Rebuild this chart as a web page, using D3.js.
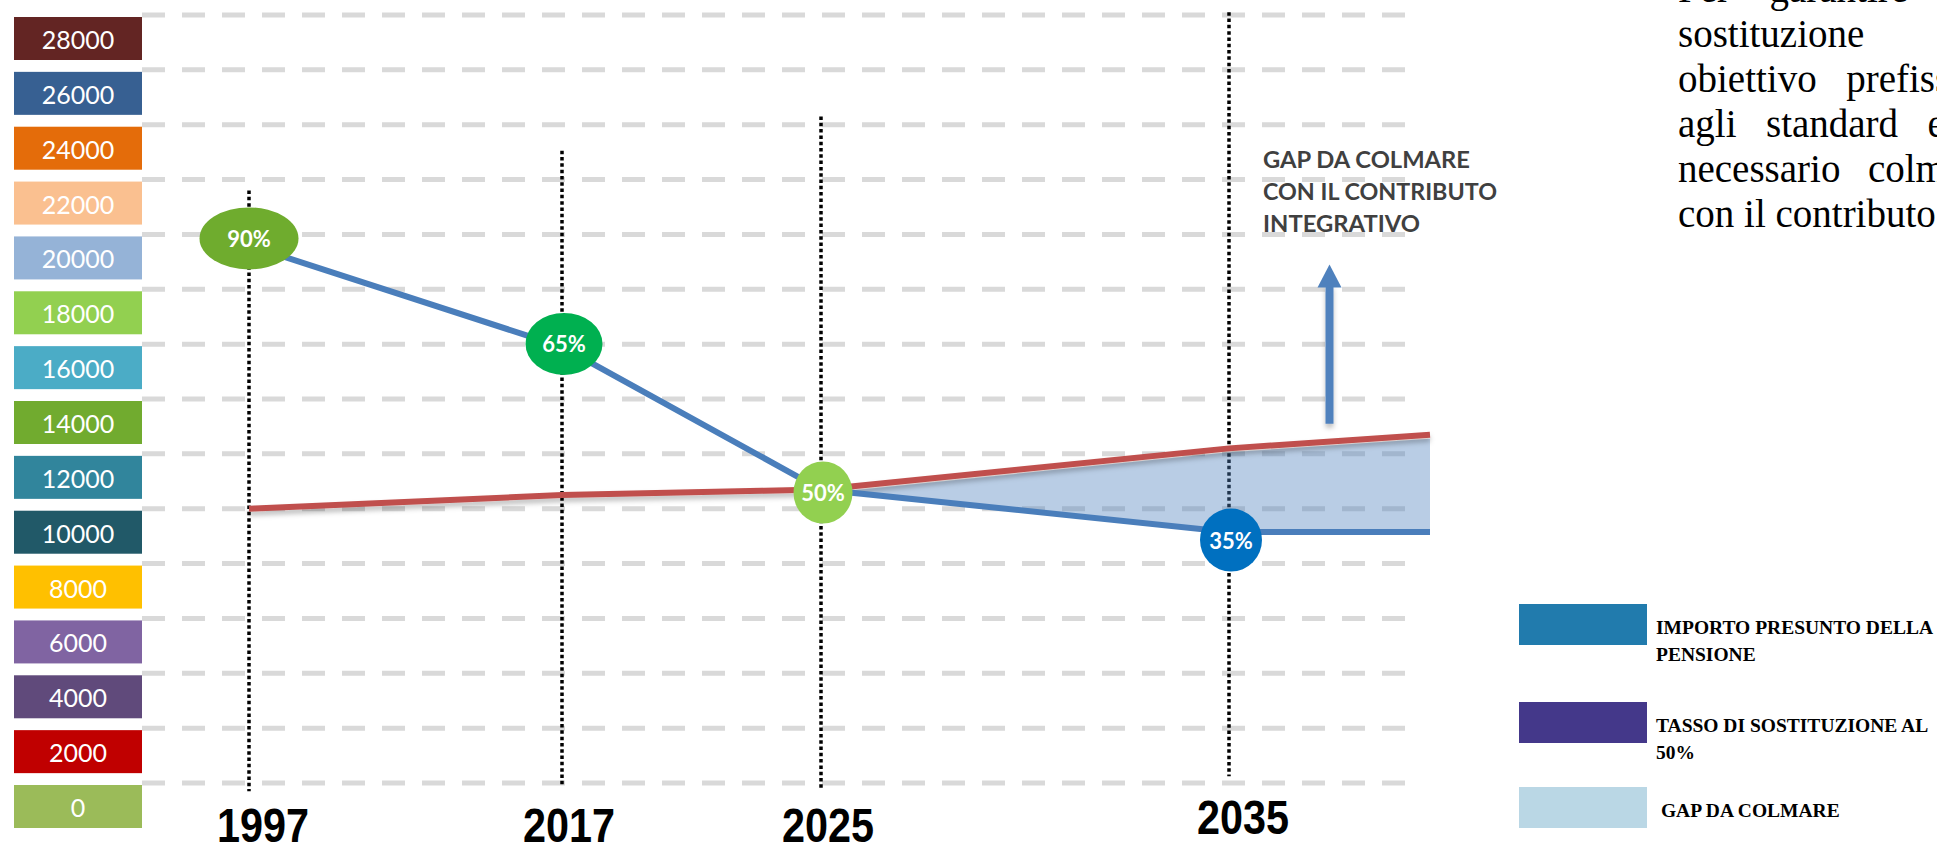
<!DOCTYPE html>
<html>
<head>
<meta charset="utf-8">
<script src="https://cdn.jsdelivr.net/npm/d3@7"></script>
<style>
  html, body { margin: 0; padding: 0; background: #fff; overflow: hidden; }
  svg { display: block; }
</style>
</head>
<body>
<svg id="chart" width="1937" height="853"></svg>
<script>
// ---------------- DATA ----------------
const categories = ["1997", "2017", "2025", "2035", ""];
const pensione = [19600, 15900, 10700, 9150, 9150];      // importo presunto della pensione (blue)
const tasso50 = [10000, 10500, 10700, 12200, 12700];     // tasso di sostituzione al 50% (red)
const rateLabels = ["90%", "65%", "50%", "35%"];
const yTicks = [0, 2000, 4000, 6000, 8000, 10000, 12000, 14000, 16000, 18000, 20000, 22000, 24000, 26000, 28000];
const tickColors = ["#9bbb59", "#c00000", "#604a7b", "#8064a2", "#ffc000", "#215968", "#31859c",
                    "#71ab2f", "#4bacc6", "#92d050", "#95b3d7", "#fac090", "#e46c0a", "#376092", "#632523"];
const guideTop = [21600, 23050, 24300, 28100];
const guideBottom = [-300, -150, -250, 250];
const arrowFrom = 13100, arrowTo = 18900;
const gapNote = ["GAP DA COLMARE", "CON IL CONTRIBUTO", "INTEGRATIVO"];
const legendItems = [
  { lines: ["IMPORTO PRESUNTO DELLA", "PENSIONE"], color: "#217bad" },
  { lines: ["TASSO DI SOSTITUZIONE AL", "50%"], color: "#44388a" },
  { lines: [" GAP DA COLMARE"], color: "#bad7e5" }
];
const paragraph = ["Per  garantire  u", "sostituzione", "obiettivo  prefiss", "agli  standard  e", "necessario  colm", "con il contributo"];

// ---------------- STYLES ----------------
const badgeColors = ["#6fac2e", "#00b050", "#92d050", "#0070c0"];
const badgeRx = [49.5, 38.5, 29.5, 31];
const badgeRy = [31, 31, 31, 31.5];
const badgeDy = [-7, -3, 3, 8];

const svg = d3.select("#chart");
svg.append("rect").attr("width", 1937).attr("height", 853).attr("fill", "#fff");

const defs = svg.append("defs");
const f = defs.append("filter").attr("id", "shadow")
  .attr("filterUnits", "userSpaceOnUse")
  .attr("x", 0).attr("y", 0).attr("width", 1937).attr("height", 853);
f.append("feDropShadow").attr("dx", 0).attr("dy", 4).attr("stdDeviation", 2.5)
  .attr("flood-color", "#000").attr("flood-opacity", 0.25);

const y = d3.scaleLinear().domain([0, 28000]).range([783, 15]);
const x = d3.scaleLinear().domain([0, 1, 2, 3, 4]).range([249, 562, 821, 1229, 1430]);
const idx = categories.map((d, i) => i);

const gridLeft = 142, gridRight = 1415;

// gridlines
svg.append("g").selectAll("line").data(yTicks).join("line")
  .attr("x1", gridLeft).attr("x2", gridRight)
  .attr("y1", d => y(d)).attr("y2", d => y(d))
  .attr("stroke", "#d9d9d9").attr("stroke-width", 5)
  .attr("stroke-dasharray", "23,17");

// tick label boxes
const boxes = svg.append("g");
boxes.selectAll("rect").data(yTicks).join("rect")
  .attr("x", 14).attr("width", 128)
  .attr("y", d => y(d) + 2).attr("height", 43)
  .attr("fill", (d, i) => tickColors[i]);
boxes.selectAll("text").data(yTicks).join("text")
  .attr("x", 78).attr("y", d => y(d) + 24)
  .attr("text-anchor", "middle").attr("dominant-baseline", "central")
  .attr("font-family", "Lato, 'Open Sans', sans-serif").attr("font-size", 25)
  .attr("fill", "#fff").text(d => d);

// vertical dotted guides
svg.append("g").selectAll("line").data(categories.slice(0, 4)).join("line")
  .attr("x1", (d, i) => x(i)).attr("x2", (d, i) => x(i))
  .attr("y1", (d, i) => y(guideTop[i])).attr("y2", (d, i) => y(guideBottom[i]))
  .attr("stroke", "#000").attr("stroke-width", 3.5)
  .attr("stroke-dasharray", "3.5,2.8");

// gap area between 2025 and end
const gapIdx = idx.slice(2);
svg.append("path").datum(gapIdx)
  .attr("d", d3.area().x(i => x(i)).y0(i => y(pensione[i])).y1(i => y(tasso50[i]) + 4))
  .attr("fill", "#4f81bd").attr("fill-opacity", 0.4);

// red line
svg.append("path").datum(idx)
  .attr("d", d3.line().x(i => x(i)).y(i => y(tasso50[i])))
  .attr("fill", "none").attr("stroke", "#c0504d").attr("stroke-width", 6)
  .attr("filter", "url(#shadow)");

// blue line
svg.append("path").datum(idx)
  .attr("d", d3.line().x(i => x(i)).y(i => y(pensione[i])))
  .attr("fill", "none").attr("stroke", "#4a7ebb").attr("stroke-width", 6);

// badges
const badges = svg.append("g").selectAll("g").data(rateLabels).join("g")
  .attr("transform", (d, i) => `translate(${x(i) + (i === 0 ? 0 : 2)},${y(pensione[i]) + badgeDy[i]})`);
badges.append("ellipse")
  .attr("rx", (d, i) => badgeRx[i]).attr("ry", (d, i) => badgeRy[i])
  .attr("fill", (d, i) => badgeColors[i]);
badges.append("text")
  .attr("text-anchor", "middle").attr("dominant-baseline", "central")
  .attr("font-family", "Lato, 'Open Sans', sans-serif").attr("font-weight", 700)
  .attr("font-size", 22).attr("fill", "#fff").text(d => d);

// arrow
const ax = x(3.5);
svg.append("line")
  .attr("x1", ax).attr("x2", ax)
  .attr("y1", y(arrowFrom)).attr("y2", y(arrowTo) + 20)
  .attr("stroke", "#4f81bd").attr("stroke-width", 8)
  .attr("filter", "url(#shadow)");
svg.append("path")
  .attr("d", `M${ax - 12},${y(arrowTo) + 23} L${ax},${y(arrowTo)} L${ax + 12},${y(arrowTo) + 23} Z`)
  .attr("fill", "#4f81bd");

// gap note
const noteWidths = [207, 234, 157];
svg.append("g").selectAll("text").data(gapNote).join("text")
  .attr("x", x(3) + 34).attr("y", (d, i) => 168 + i * 32)
  .attr("font-family", "Lato, 'Open Sans', sans-serif").attr("font-weight", 700)
  .attr("font-size", 23.5).attr("fill", "#404040")
  .attr("textLength", (d, i) => noteWidths[i]).attr("lengthAdjust", "spacingAndGlyphs")
  .text(d => d);

// year labels
svg.append("g").selectAll("text").data(categories.slice(0, 4)).join("text")
  .attr("x", (d, i) => x(i) + (i === 0 || i === 3 ? 14 : 7))
  .attr("y", (d, i) => i === 3 ? 834 : 842)
  .attr("text-anchor", "middle")
  .attr("font-family", "'Liberation Sans Narrow', 'Arial Narrow', 'Liberation Sans', sans-serif")
  .attr("font-weight", 700).attr("font-size", 48).attr("fill", "#000")
  .attr("textLength", 92).attr("lengthAdjust", "spacingAndGlyphs")
  .text(d => d);

// legend
const legendTop = [604, 702, 787];
const lg = svg.append("g").selectAll("g").data(legendItems).join("g")
  .attr("transform", (d, i) => `translate(1519,${legendTop[i]})`);
lg.append("rect").attr("width", 128).attr("height", 41).attr("fill", d => d.color);
lg.each(function(d) {
  const g = d3.select(this);
  d.lines.forEach((t, j) => {
    g.append("text")
      .attr("x", 137).attr("y", 30 + j * 27)
      .attr("font-family", "'Liberation Serif', serif").attr("font-weight", 700)
      .attr("font-size", 19.5).attr("fill", "#000")
      .attr("xml:space", "preserve")
      .text(t);
  });
});

// paragraph (visible part, reaching the right edge)
const wordSp = [10, 0, 5, 5, 4, 0];
svg.append("g").selectAll("text").data(paragraph).join("text")
  .attr("x", 1678).attr("y", (d, i) => 2 + i * 45)
  .attr("font-family", "'Liberation Serif', serif").attr("font-size", 39)
  .attr("fill", "#000").attr("word-spacing", (d, i) => wordSp[i])
  .attr("xml:space", "preserve")
  .text(d => d);
</script>
</body>
</html>
